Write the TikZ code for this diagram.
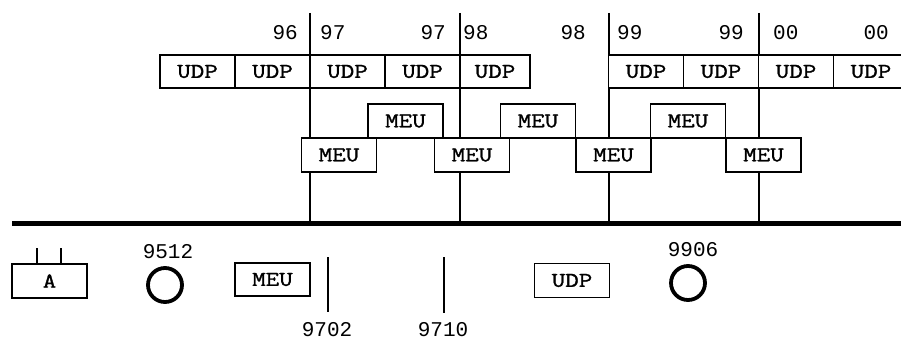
\documentclass[tikz,border=0pt]{standalone}
\usepackage{fontspec}
\newfontfamily\numfont{Liberation Mono}
\newfontfamily\boxfont{Latin Modern Mono}[FakeStretch=1.25, FakeBold=1.5]
\usetikzlibrary{positioning}

\begin{document}
\begin{tikzpicture}[
  x=1pt, y=-1pt,
  pkt/.style={draw, line width=1.2pt, fill=white, minimum width=75pt, minimum height=34pt, inner sep=0pt, outer sep=0pt, font=\boxfont\fontsize{21}{21}\selectfont},
  yr/.style={inner sep=0pt, font=\numfont\fontsize{21}{21}\selectfont},
  divider/.style={line width=1.6pt},
  tick/.style={line width=1.2pt},
  disc/.style={draw, circle, line width=3.8pt, minimum size=34pt, inner sep=0pt},
  bus/.style={line width=5pt}
]
\useasboundingbox (0,0) rectangle (901,345);

% time axis
\coordinate (busL) at (12,223);
\coordinate (busR) at (901,223);
\coordinate (d1) at (310,13);
\coordinate (d2) at (460,13);
\coordinate (d3) at (609,13);
\coordinate (d4) at (759,13);
\draw[bus] (busL) -- (busR);
\draw[divider] (d1) -- (d1 |- busL);
\draw[divider] (d2) -- (d2 |- busL);
\draw[divider] (d3) -- (d3 |- busL);
\draw[divider] (d4) -- (d4 |- busL);

% years
\node[yr, anchor=east] (y96) at (298,33) {96};
\node[yr, anchor=west] (y97a) at (320,33) {97};
\node[yr, anchor=east] (y97b) at (446,33) {97};
\node[yr, anchor=west] (y98a) at (463,33) {98};
\node[yr, anchor=east] (y98b) at (586,33) {98};
\node[yr, anchor=west] (y99a) at (617,33) {99};
\node[yr, anchor=east] (y99b) at (744,33) {99};
\node[yr, anchor=west] (y00a) at (773,33) {00};
\node[yr, anchor=east] (y00b) at (889,33) {00};

% UDP row
\node[pkt, minimum height=33pt] (u1) at (197.5,71.5) {UDP};
\node[pkt, minimum height=33pt, right=0pt of u1] (u2) {UDP};
\node[pkt, minimum height=33pt, right=0pt of u2] (u3) {UDP};
\node[pkt, minimum height=33pt, right=0pt of u3] (u4) {UDP};
\node[pkt, minimum height=33pt, minimum width=70pt, right=0pt of u4] (u5) {UDP};
\node[pkt, minimum height=33pt] (u6) at (646,71.5) {UDP};
\node[pkt, minimum height=33pt, right=0pt of u6] (u7) {UDP};
\node[pkt, minimum height=33pt, right=0pt of u7] (u8) {UDP};
\node[pkt, minimum height=33pt, right=0pt of u8] (u9) {UDP};

% MEU rows
\node[pkt] (m1) at (339,155) {MEU};
\node[pkt] (m2) at (405.5,121) {MEU};
\node[pkt] (m3) at (472,155) {MEU};
\node[pkt] (m4) at (538,121) {MEU};
\node[pkt] (m5) at (613.5,155) {MEU};
\node[pkt] (m6) at (688,121) {MEU};
\node[pkt] (m7) at (763.5,155) {MEU};

% legend
\node[pkt] (a) at (49.5,281) {A};
\coordinate (a1) at (37,248);
\coordinate (a2) at (61,248);
\draw[tick] (a1) -- (a1 |- a.north);
\draw[tick] (a2) -- (a2 |- a.north);

\node[disc] (c1) at (165,285) {};
\node[yr] (c1lbl) at (168,252) {9512};

\node[pkt, minimum height=33pt] (lmeu) at (272.5,279.5) {MEU};

\coordinate (k1) at (328,257);
\coordinate (k1b) at (328,312);
\draw[tick] (k1) -- (k1b);
\node[yr] (k1lbl) at (327,330) {9702};

\coordinate (k2) at (444,257);
\coordinate (k2b) at (444,313);
\draw[tick] (k2) -- (k2b);
\node[yr] (k2lbl) at (443,330) {9710};

\node[pkt] (ludp) at (572,280.5) {UDP};

\node[disc] (c2) at (688,283) {};
\node[yr] (c2lbl) at (693,250) {9906};
\end{tikzpicture}
\end{document}
